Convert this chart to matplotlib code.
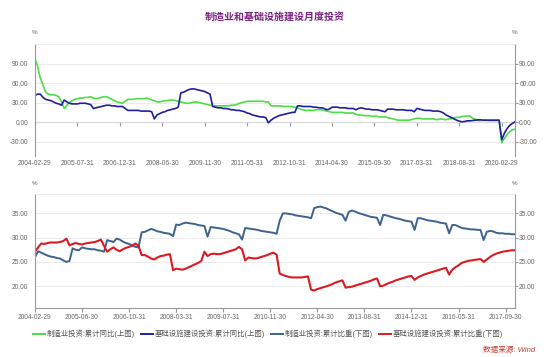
import matplotlib
matplotlib.use("Agg")
import matplotlib.pyplot as plt
from matplotlib.lines import Line2D

plt.rcParams['font.family'] = ['Liberation Sans', 'Noto Sans CJK SC', 'DejaVu Sans']

# monthly data, Feb..Dec each year (Wind has no separate January figure)
mfg_yoy = [
    98, 85, 68, 57, 46, 43, 42, 42, 41, 39, 31,          # 2004
    21, 26, 30, 33, 35, 36, 37, 37, 38, 38, 39,          # 2005
    37, 36, 37, 38, 39, 39, 37, 35, 33, 31, 30,          # 2006
    29, 32, 35, 35, 35, 36, 36, 36, 36, 37, 36,          # 2007
    34, 33, 31, 31, 32, 33, 33, 34, 34, 33, 32,          # 2008
    31, 30, 29, 29, 30, 31, 31, 30, 29, 28, 27,          # 2009
    26, 25, 25, 25, 25, 25, 25, 25, 26, 26, 27,          # 2010
    29, 30, 31, 32, 32, 32, 32, 32, 32, 32, 31,          # 2011
    31, 25, 25, 25, 25, 25, 24, 24, 24, 24, 23,          # 2012
    22, 20, 19, 18, 18, 18, 18, 19, 19, 19, 18,          # 2013
    17, 16, 15, 15, 15, 15, 15, 14, 14, 14, 14,          # 2014
    12, 11, 11, 10, 10, 10, 9, 9, 9, 8, 8,               # 2015
    8, 7, 6, 5, 4, 3, 3, 3, 3, 3, 4,                     # 2016
    5, 6, 6, 5, 5, 5, 5, 5, 4, 4, 5,                     # 2017
    4.3, 3.8, 4.8, 5.2, 6.8, 7.3, 7.5, 8.7, 9.1, 9.5, 9.5,   # 2018
    5.9, 4.6, 2.5, 2.7, 3.0, 3.3, 2.6, 2.5, 2.6, 2.5, 3.1,   # 2019
    -31.5, -25.2, -18.8, -14.8, -11.7, -11.0,            # 2020
]
infra_yoy = [
    41, 43, 43, 38, 35, 34, 33, 31, 29, 28, 26,          # 2004
    34, 31, 29, 28, 28, 28, 29, 29, 29, 28, 27,          # 2005
    21, 22, 23, 24, 25, 26, 26, 25, 25, 24, 24,          # 2006
    24, 21, 18, 18, 18, 18, 18, 17, 17, 17, 17,          # 2007
    16, 5, 11, 13, 15, 16, 18, 19, 20, 21, 23,           # 2008
    45, 46, 48, 50, 51, 51, 50, 49, 48, 47, 45,          # 2009
    43, 24, 23, 22, 22, 21, 21, 20, 19, 19, 18,          # 2010
    18, 17, 16, 14, 13, 11, 10, 9, 8, 8, 7,              # 2011
    -1, 3, 6, 8, 10, 11, 12, 13, 14, 15, 15,             # 2012
    25, 25, 24, 24, 24, 24, 23, 23, 22, 22, 21,          # 2013
    19, 20, 23, 23, 23, 22, 22, 22, 21, 21, 21,          # 2014
    19, 21, 22, 21, 20, 20, 19, 19, 19, 18, 17,          # 2015
    16, 20, 20, 20, 19, 19, 19, 19, 18, 18, 18,          # 2016
    16, 21, 20, 19, 18, 18, 18, 17, 17, 17, 16,          # 2017
    14, 11, 9, 7, 5, 3, 1.5, 0.5, 1, 2, 2,               # 2018
    2.5, 3, 3.5, 3.5, 3, 3, 3, 3, 3, 3, 3,               # 2019
    -27, -17, -10, -5, -2, 0.5,                          # 2020
]
mfg_share = [
    26.0, 27.2, 26.9, 26.6, 26.3, 26.1, 26.0, 25.8, 25.7, 25.3, 25.0,   # 2004
    25.2, 27.8, 27.5, 27.4, 28.0, 27.8, 27.7, 27.6, 27.6, 27.4, 27.3,   # 2005
    27.1, 29.5, 29.3, 29.1, 29.8, 29.6, 29.2, 28.9, 28.7, 28.4, 28.1,   # 2006
    28.0, 31.1, 31.2, 31.5, 31.8, 31.6, 31.3, 31.2, 31.0, 30.9, 30.8,   # 2007
    30.3, 32.7, 32.6, 32.9, 33.1, 33.0, 32.9, 32.8, 32.6, 32.5, 32.4,   # 2008
    30.2, 32.2, 32.1, 32.0, 31.9, 31.8, 31.6, 31.4, 31.1, 30.9, 30.7,   # 2009
    29.6, 32.0, 31.9, 31.8, 31.7, 31.6, 31.4, 31.3, 31.2, 31.1, 31.0,   # 2010
    30.8, 33.5, 35.0, 35.0, 34.9, 34.8, 34.6, 34.5, 34.4, 34.3, 34.2,   # 2011
    34.0, 36.1, 36.3, 36.4, 36.2, 36.0, 35.7, 35.4, 35.1, 34.9, 34.7,   # 2012
    33.5, 35.3, 35.6, 35.4, 35.1, 34.9, 34.7, 34.5, 34.3, 34.2, 34.1,   # 2013
    32.6, 34.7, 34.6, 34.4, 34.2, 34.0, 33.9, 33.7, 33.5, 33.4, 33.3,   # 2014
    31.6, 34.0, 34.0, 33.8, 33.6, 33.5, 33.4, 33.3, 33.1, 33.0, 32.9,   # 2015
    30.9, 32.6, 32.6, 32.3, 32.0, 31.9, 31.8, 31.7, 31.7, 31.6, 31.6,   # 2016
    29.5, 31.2, 31.4, 31.3, 31.0, 30.9, 30.9, 30.8, 30.8, 30.7, 30.7,   # 2017
]
infra_share = [
    27.1, 28.0, 28.8, 28.7, 28.9, 29.0, 29.0, 29.0, 29.1, 29.3, 29.8,   # 2004
    28.4, 28.7, 28.9, 28.7, 28.6, 28.8, 28.9, 29.0, 29.1, 29.3, 29.6,   # 2005
    28.3, 27.1, 27.6, 28.0, 27.5, 27.2, 27.6, 27.9, 28.1, 28.4, 28.8,   # 2006
    28.3, 26.4, 26.4, 26.1, 25.7, 25.5, 25.9, 26.2, 26.3, 26.5, 26.6,   # 2007
    23.3, 23.6, 23.5, 23.4, 23.6, 23.9, 24.2, 24.5, 24.8, 25.2, 27.1,   # 2008
    26.2, 26.6, 26.7, 26.6, 26.6, 26.8, 27.0, 27.2, 27.4, 27.6, 28.1,   # 2009
    27.6, 25.3, 25.9, 25.8, 25.7, 25.8, 26.0, 26.2, 26.4, 26.7, 26.9,   # 2010
    26.5, 22.6, 22.3, 22.1, 21.9, 21.8, 21.8, 21.8, 21.8, 21.9, 22.0,   # 2011
    19.3, 19.1, 19.4, 19.6, 19.8, 20.0, 20.2, 20.5, 20.8, 21.0, 21.2,   # 2012
    19.7, 19.8, 19.9, 20.1, 20.3, 20.5, 20.7, 20.9, 21.1, 21.4, 21.6,   # 2013
    20.0, 20.1, 20.4, 20.7, 20.9, 21.2, 21.4, 21.6, 21.8, 22.0, 22.1,   # 2014
    21.3, 21.8, 22.1, 22.4, 22.6, 22.8, 23.0, 23.2, 23.4, 23.6, 23.8,   # 2015
    22.4, 23.4, 23.9, 24.3, 24.8, 25.0, 25.2, 25.3, 25.4, 25.5, 25.6,   # 2016
    25.0, 25.5, 26.0, 26.4, 26.7, 26.9, 27.1, 27.2, 27.3, 27.4, 27.4,   # 2017
]

title = '制造业和基础设施建设月度投资'
legend_labels = ['制造业投资:累计同比(上图)', '基础设施建设投资:累计同比(上图)',
                 '制造业投资:累计比重(下图)', '基础设施建设投资:累计比重(下图)']
colors = ['#4fdc45', '#1e209c', '#3d6390', '#dc1a22']

month_end = {2: None, 3: 31, 4: 30, 5: 31, 6: 30, 7: 31, 8: 31, 9: 30, 10: 31, 11: 30, 12: 31}


def date_labels(n):
    out = []
    y, m = 2004, 2
    for _ in range(n):
        d = month_end[m] or (29 if y % 4 == 0 else 28)
        out.append(f'{y}-{m:02d}-{d:02d}')
        m += 1
        if m > 12:
            y, m = y + 1, 2
    return out


top_dates = date_labels(len(mfg_yoy))
bot_dates = date_labels(len(mfg_share))

grey = '#999999'
txt = '#666666'
fs = 4.8

fig = plt.figure(figsize=(5.5, 3.57), dpi=100)
ax1 = fig.add_axes([35 / 550, 1 - 156 / 357, 480 / 550, 112 / 357])
ax2 = fig.add_axes([35 / 550, 1 - 308 / 357, 480 / 550, 114 / 357])


def style(ax, ylim, yticks):
    ax.set_ylim(*ylim)
    ax.set_yticks(yticks)
    ax.set_yticklabels([f'{v:.2f}' for v in yticks])
    ax.grid(axis='y', color='#e8e8e8', lw=0.6)
    ax.set_axisbelow(True)
    for s in ('left', 'right'):
        ax.spines[s].set_color(grey)
        ax.spines[s].set_linewidth(0.8)
    ax.spines['top'].set_color('#e8e8e8')
    ax.spines['top'].set_linewidth(0.6)
    ax.tick_params(axis='y', length=0, pad=5, labelsize=fs, labelcolor=txt)
    tw = ax.twinx()
    tw.set_ylim(*ylim)
    tw.set_yticks(yticks)
    tw.set_yticklabels([f'{v:.2f}' for v in yticks])
    tw.tick_params(axis='y', length=2, pad=1, labelsize=fs, labelcolor=txt, color=grey)
    for s in tw.spines.values():
        s.set_visible(False)


# upper chart: cumulative yoy growth
xt = range(len(mfg_yoy))
ax1.plot(xt, mfg_yoy, color=colors[0], lw=1.2)
ax1.plot(xt, infra_yoy, color=colors[1], lw=1.2)
ax1.set_xlim(0, len(mfg_yoy) - 1)
style(ax1, (-52, 120), [-30, 0, 30, 60, 90])
ax1.spines['bottom'].set_visible(False)
ticks1 = list(range(0, len(mfg_yoy), 16))
ax1.set_xticks(ticks1)
ax1.set_xticklabels([top_dates[i] for i in ticks1])
ax1.tick_params(axis='x', length=0, pad=3, labelsize=fs, labelcolor=txt)
zero = (0 - (-52)) / (120 - (-52))
sec = ax1.secondary_xaxis(zero)
sec.set_xticks(ticks1)
sec.tick_params(axis='x', length=3, color=grey, labelbottom=False)
sec.spines['bottom'].set_color(grey)
sec.spines['bottom'].set_linewidth(0.8)

# lower chart: share of total investment
xb = range(len(mfg_share))
ax2.plot(xb, mfg_share, color=colors[2], lw=1.4)
ax2.plot(xb, infra_share, color=colors[3], lw=1.5)
ax2.set_xlim(0, len(mfg_share) - 1)
style(ax2, (15.5, 39), [20, 25, 30, 35])
ax2.spines['bottom'].set_color(grey)
ax2.spines['bottom'].set_linewidth(0.8)
ticks2 = list(range(0, len(mfg_share), 15))
ax2.set_xticks(ticks2)
ax2.set_xticklabels([bot_dates[i] for i in ticks2])
ax2.tick_params(axis='x', length=3, pad=1.5, color=grey, labelsize=fs, labelcolor=txt)

fig.text(0.5, 1 - 17 / 357, title, ha='center', va='center', fontsize=7.2,
         color='#7b2181', fontweight='bold')
for yy in (33, 184):
    fig.text(35 / 550, 1 - yy / 357, '%', ha='center', va='center', fontsize=4.5, color=txt)
    fig.text(515 / 550, 1 - yy / 357, '%', ha='center', va='center', fontsize=4.5, color=txt)

handles = [Line2D([], [], color=c, lw=1.4) for c in colors]
fig.legend(handles, legend_labels, loc='center', bbox_to_anchor=(268 / 550, 1 - 334 / 357),
           ncol=4, frameon=False, fontsize=5.3, handlelength=1.6, handletextpad=0.3,
           columnspacing=0.8, labelcolor='#555555')
fig.text(535 / 550, 1 - 350 / 357, '数据来源: Wind', ha='right', va='center',
         fontsize=5.5, color='#c0392b', style='italic')

fig.savefig('out.png', dpi=100)
